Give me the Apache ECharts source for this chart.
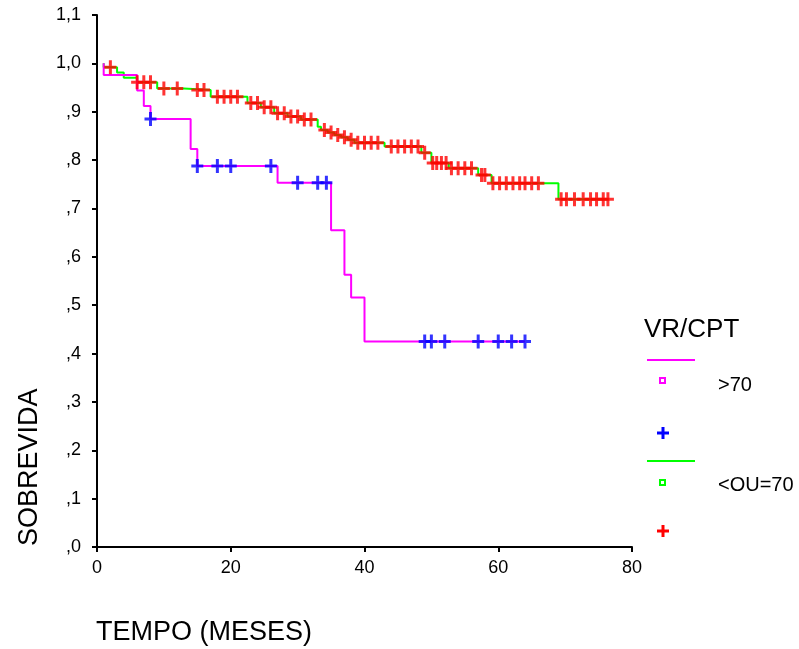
<!DOCTYPE html>
<html>
<head>
<meta charset="utf-8">
<title>Sobrevida VR/CPT</title>
<script src="https://cdn.jsdelivr.net/npm/echarts@6/dist/echarts.min.js"></script>
<style>
  html, body { margin: 0; padding: 0; background: #fff; }
  #main { width: 799px; height: 649px; }
</style>
</head>
<body>
<div id="main"></div>
<script>
// VR/CPT > 70  (step curve: event time, survival after the event)
var grpAltoTime = [1, 1, 6, 7, 8, 14, 15, 27, 35, 37, 38, 40, 64];
var grpAltoSurv = [1.0, 0.976, 0.944, 0.912, 0.885, 0.823, 0.788, 0.753, 0.655, 0.563, 0.516, 0.425, 0.425];
// censored cases for > 70
var grpAltoCens = [
  [8, 0.885], [15, 0.788], [18, 0.788], [20, 0.788], [26, 0.788],
  [30, 0.753], [33, 0.753], [34.3, 0.753],
  [49, 0.425], [50, 0.425], [52, 0.425], [57, 0.425], [60, 0.425], [62, 0.425], [64, 0.425]
];

// VR/CPT <OU=70
var grpBaixoTime = [1, 1, 3, 4, 6, 9, 13, 17, 22.5, 24.5, 26.5, 28.5, 30.5, 33, 33.5, 34.5, 35.5, 36.5, 37.5, 38.5, 43, 48.5, 50, 52.6, 57, 59, 69, 76.4];
var grpBaixoSurv = [1.0, 0.992, 0.981, 0.970, 0.961, 0.948, 0.945, 0.931, 0.918, 0.909, 0.897, 0.890, 0.884, 0.869, 0.862, 0.857, 0.852, 0.847, 0.842, 0.836, 0.828, 0.815, 0.794, 0.783, 0.769, 0.752, 0.719, 0.719];
var grpBaixoCens = [
  [2, 0.992],
  [6, 0.961], [7, 0.961], [8, 0.961],
  [10, 0.948], [12, 0.948],
  [15, 0.945], [16, 0.945],
  [18, 0.931], [19, 0.931], [20, 0.931], [21, 0.931],
  [23, 0.918], [24, 0.918],
  [25, 0.909], [26, 0.909],
  [27, 0.897], [28, 0.897],
  [29, 0.890], [30, 0.890],
  [31, 0.884], [32, 0.884],
  [34, 0.862], [35, 0.857], [36, 0.852], [37, 0.847], [38, 0.842],
  [39, 0.836], [40, 0.836], [41, 0.836], [42, 0.836],
  [44, 0.828], [45, 0.828], [46, 0.828], [47, 0.828], [48, 0.828],
  [49, 0.815],
  [50.2, 0.794], [50.8, 0.794], [51.5, 0.794], [52.2, 0.794],
  [53, 0.783], [54, 0.783], [55, 0.783], [56, 0.783],
  [57.5, 0.769], [58, 0.769],
  [59.2, 0.752], [60.2, 0.752], [61.2, 0.752], [62.2, 0.752], [63.2, 0.752], [64, 0.752], [65, 0.752], [66, 0.752],
  [69.4, 0.719], [70.2, 0.719], [71.4, 0.719], [72.7, 0.719], [73.8, 0.719], [74.7, 0.719], [75.7, 0.719], [76.4, 0.719]
];

var legendTitle = 'VR/CPT';
var legendNames = ['>70', '<OU=70'];

var FONT = '"Liberation Sans", Arial, sans-serif';
var PLUS = 'path://M-1.5,-7h3v5.5h4.5v3h-4.5v5.5h-3v-5.5h-4.5v-3h4.5z';

function pairs(t, s) {
  return t.map(function (v, i) { return [v, s[i]]; });
}

function plus(cx, cy, color) {
  return [
    { type: 'line', shape: { x1: cx - 6, y1: cy, x2: cx + 6, y2: cy }, style: { stroke: color, lineWidth: 3 } },
    { type: 'line', shape: { x1: cx, y1: cy - 6, x2: cx, y2: cy + 6 }, style: { stroke: color, lineWidth: 3 } }
  ];
}

var myChart = echarts.init(document.getElementById('main'));

var legendItems = [
  { type: 'text', left: 644, top: 317, style: { text: legendTitle, font: '26px ' + FONT, fill: '#000' } },
  { type: 'line', shape: { x1: 647, y1: 360, x2: 695, y2: 360 }, style: { stroke: '#ff00ff', lineWidth: 2 } },
  { type: 'rect', shape: { x: 660, y: 378, width: 5, height: 5 }, style: { stroke: '#ff00ff', fill: '#fff', lineWidth: 2 } },
  { type: 'text', left: 718, top: 375, style: { text: legendNames[0], font: '20px ' + FONT, fill: '#000' } },
  { type: 'line', shape: { x1: 647, y1: 461, x2: 695, y2: 461 }, style: { stroke: '#00ff00', lineWidth: 2 } },
  { type: 'rect', shape: { x: 660, y: 480, width: 5, height: 5 }, style: { stroke: '#00ff00', fill: '#fff', lineWidth: 2 } },
  { type: 'text', left: 718, top: 475, style: { text: legendNames[1], font: '20px ' + FONT, fill: '#000' } }
].concat(plus(663, 433, '#0000ff'), plus(663, 531, '#ff0000'));

option = {
  backgroundColor: '#fff',
  animation: false,
  grid: { left: 97, right: 167, top: 15, bottom: 102, containLabel: false },
  xAxis: {
    type: 'value',
    min: 0,
    max: 80,
    interval: 20,
    axisLine: { lineStyle: { color: '#000', width: 2 } },
    axisTick: { length: 5, lineStyle: { color: '#000', width: 2 } },
    axisLabel: { color: '#000', fontSize: 18, fontFamily: FONT, margin: 12 },
    splitLine: { show: false }
  },
  yAxis: {
    type: 'value',
    min: 0,
    max: 1.1,
    interval: 0.1,
    axisLine: { show: true, lineStyle: { color: '#000', width: 2 } },
    axisTick: { show: true, length: 5, lineStyle: { color: '#000', width: 2 } },
    axisLabel: {
      color: '#000', fontSize: 18, fontFamily: FONT, margin: 16,
      formatter: function (v) {
        var s = (Math.round(v * 10) / 10).toFixed(1).replace('.', ',');
        return s.charAt(0) === '0' ? s.slice(1) : s;
      }
    },
    splitLine: { show: false }
  },
  graphic: [
    { type: 'text', left: 96, top: 619, style: { text: 'TEMPO (MESES)', font: '27px ' + FONT, fill: '#000' } },
    { type: 'text', x: 16, y: 546, rotation: Math.PI / 2, style: { text: 'SOBREVIDA', font: '27px ' + FONT, fill: '#000', align: 'left', verticalAlign: 'top' } }
  ].concat(legendItems),
  series: [
    {
      name: legendNames[1],
      type: 'line',
      step: 'end',
      showSymbol: false,
      data: pairs(grpBaixoTime, grpBaixoSurv),
      lineStyle: { color: '#00ff00', width: 2 },
      z: 2
    },
    {
      name: legendNames[0],
      type: 'line',
      step: 'end',
      showSymbol: false,
      data: pairs(grpAltoTime, grpAltoSurv),
      lineStyle: { color: '#ff00ff', width: 2 },
      z: 3
    },
    {
      type: 'scatter',
      symbol: PLUS,
      symbolSize: [12, 14],
      itemStyle: { color: '#ff0000' },
      data: grpBaixoCens,
      z: 4
    },
    {
      type: 'scatter',
      symbol: PLUS,
      symbolSize: [12, 14],
      itemStyle: { color: '#0000ff' },
      data: grpAltoCens,
      z: 5
    }
  ]
};

myChart.setOption(option);
window.addEventListener('resize', function () {
  myChart.resize();
});
</script>
</body>
</html>
